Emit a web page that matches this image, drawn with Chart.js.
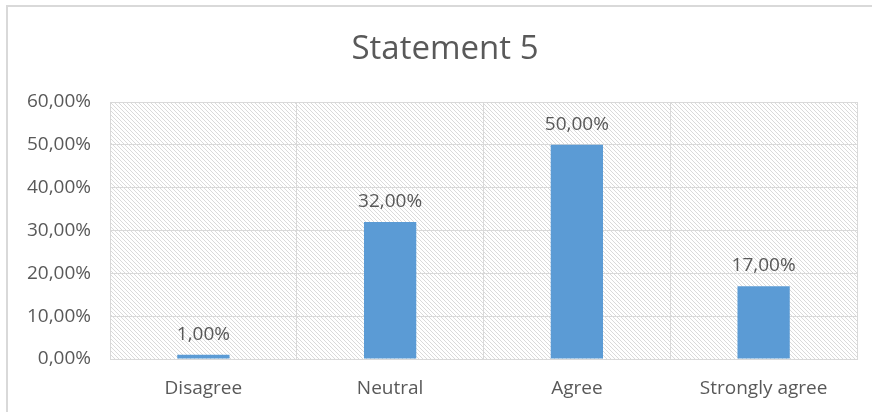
<!DOCTYPE html>
<html>
<head>
<meta charset="utf-8">
<script src="https://cdn.jsdelivr.net/npm/chart.js@4"></script>
<style>
  body { margin: 0; background: #fff; overflow: hidden; }
  #frame { position: absolute; left: 6px; top: 5px; width: 900px; height: 430px; border: 2px solid #d9d9d9; }
  #wrap { position: absolute; left: 0; top: 0; width: 872px; height: 412px; }
</style>
</head>
<body>
<div id="frame"></div>
<div id="wrap"><canvas id="statement-chart"></canvas></div>
<script>
var canva = document.getElementById('statement-chart');

// chart values
const chart_title = "Statement 5";
const categories = ["Disagree", "Neutral", "Agree", "Strongly agree"];
const percentages = [1, 32, 50, 17];
const tick_values = [0, 10, 20, 30, 40, 50, 60];

const bar_color = "#5b9bd5";
const text_color = "#595959";
const grid_color = "#d9d9d9";
const font_family = "'Open Sans', sans-serif";

function fmt(v){
    return v.toFixed(2).replace('.', ',') + '%';
}

// diagonal hatch for the plot area
function makeHatch(){
    var c = document.createElement('canvas');
    c.width = 4; c.height = 4;
    var g = c.getContext('2d');
    g.strokeStyle = "#dadada";
    g.lineWidth = 1;
    g.beginPath();
    g.moveTo(-1, -1); g.lineTo(5, 5);
    g.moveTo(-1, 3); g.lineTo(1, 5);
    g.moveTo(3, -1); g.lineTo(5, 1);
    g.stroke();
    return g.createPattern(c, 'repeat');
}

const hatchPlugin = {
    id: 'hatch',
    beforeDraw(chart){
        var a = chart.chartArea, ctx = chart.ctx;
        ctx.save();
        ctx.fillStyle = makeHatch();
        ctx.fillRect(a.left, a.top, a.right - a.left, a.bottom - a.top);
        ctx.restore();
    }
};

// title sits a bit right of the canvas centre, like the original
const titlePlugin = {
    id: 'offsetTitle',
    afterDraw(chart){
        var ctx = chart.ctx;
        ctx.save();
        ctx.font = "33px " + font_family;
        ctx.fillStyle = text_color;
        ctx.textAlign = 'center';
        ctx.textBaseline = 'middle';
        ctx.fillText(chart_title, 445, 50);
        ctx.restore();
    }
};

const labelPlugin = {
    id: 'barLabels',
    afterDatasetsDraw(chart){
        var ctx = chart.ctx;
        var meta = chart.getDatasetMeta(0);
        ctx.save();
        ctx.font = "19px " + font_family;
        ctx.fillStyle = text_color;
        ctx.textAlign = 'center';
        ctx.textBaseline = 'bottom';
        meta.data.forEach(function(bar, i){
            ctx.fillText(fmt(percentages[i]), bar.x, bar.y - 11);
        });
        ctx.restore();
    }
};

const data = {
    labels: categories,
    datasets: [{
        label: chart_title,
        data: percentages,
        backgroundColor: bar_color,
        categoryPercentage: 1,
        barPercentage: 0.28
    }]
};

const config = {
    type: 'bar',
    data: data,
    options: {
        responsive: true,
        maintainAspectRatio: false,
        animation: false,
        layout: { padding: { top: 102, right: 15, left: 0, bottom: 0 } },
        plugins: {
            legend: { display: false },
            tooltip: { enabled: false },
            title: { display: false }
        },
        scales: {
            x: {
                grid: { color: grid_color, drawTicks: false, offset: true },
                border: { color: grid_color },
                ticks: { color: text_color, font: { family: font_family, size: 19 }, padding: 18 },
                afterFit(scale){ scale.height = 53; }
            },
            y: {
                min: 0,
                max: 60,
                afterBuildTicks(scale){ scale.ticks = tick_values.map(function(v){ return { value: v }; }); },
                grid: { color: grid_color, drawTicks: false },
                border: { color: grid_color },
                ticks: {
                    color: text_color,
                    font: { family: font_family, size: 19 },
                    padding: 19,
                    callback: function(v){ return fmt(v); }
                },
                afterFit(scale){ scale.width = 110; }
            }
        }
    },
    plugins: [hatchPlugin, labelPlugin, titlePlugin]
};

const statement_chart = new Chart(canva, config);
</script>
</body>
</html>
